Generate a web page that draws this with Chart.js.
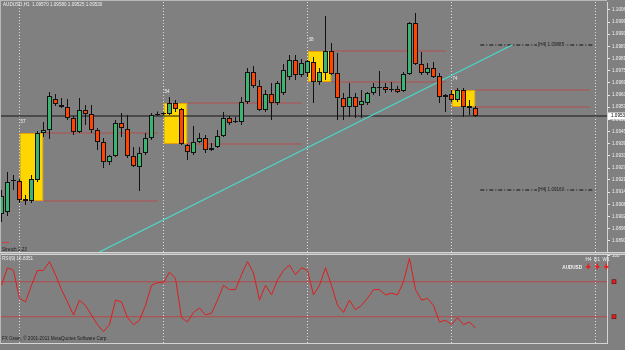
<!DOCTYPE html>
<html>
<head>
<meta charset="utf-8">
<title>AUDUSD,H1</title>
<script src="https://cdn.jsdelivr.net/npm/chart.js@4.4.0/dist/chart.umd.min.js"></script>
<style>
  html, body { margin: 0; padding: 0; background: #808080; overflow: hidden; }
  #main { position: absolute; left: 0; top: 0; }
  #rsi { position: absolute; left: 0; top: 254px; }
</style>
</head>
<body>
<canvas id="main" width="625" height="254"></canvas>
<canvas id="rsi" width="625" height="96"></canvas>
<script>
// AUDUSD H1 bars, 27 Apr 2011 21:00 .. 3 May 2011 03:00 (index = hour slot)
const opens = [
  1.09040, 1.09050, 1.09205, 1.09205, 1.09115, 1.09105, 1.09210, 1.09445, 1.09460, 1.09615,
  1.09585, 1.09575, 1.09520, 1.09450, 1.09560, 1.09540, 1.09460, 1.09400, 1.09300, 1.09330,
  1.09495, 1.09465, 1.09330, 1.09275, 1.09345, 1.09420, 1.09535, 1.09540, 1.09540, 1.09595,
  1.09565, 1.09385, 1.09345, 1.09400, 1.09420, 1.09360, 1.09375, 1.09430, 1.09520, 1.09500,
  1.09500, 1.09600, 1.09750, 1.09680, 1.09560, 1.09640, 1.09595, 1.09645, 1.09725, 1.09810,
  1.09735, 1.09745, 1.09800, 1.09700, 1.09745, 1.09855, 1.09745, 1.09620, 1.09575, 1.09625,
  1.09585, 1.09595, 1.09645, 1.09670, 1.09675, 1.09660, 1.09665, 1.09655, 1.09740, 1.09995,
  1.09790, 1.09745, 1.09770, 1.09730, 1.09625, 1.09640, 1.09610, 1.09660, 1.09580, 1.09570
];
const highs = [
  1.09160, 1.09250, 1.09235, 1.09215, 1.09135, 1.09235, 1.09455, 1.09500, 1.09650, 1.09640,
  1.09620, 1.09615, 1.09530, 1.09620, 1.09585, 1.09585, 1.09470, 1.09420, 1.09335, 1.09510,
  1.09545, 1.09535, 1.09375, 1.09375, 1.09445, 1.09545, 1.09552, 1.09548, 1.09625, 1.09610,
  1.09570, 1.09390, 1.09480, 1.09445, 1.09435, 1.09395, 1.09460, 1.09550, 1.09530, 1.09525,
  1.09625, 1.09770, 1.09780, 1.09710, 1.09660, 1.09695, 1.09705, 1.09790, 1.09835, 1.09835,
  1.09815, 1.09810, 1.09825, 1.09770, 1.10030, 1.09895, 1.09845, 1.09645, 1.09695, 1.09645,
  1.09660, 1.09650, 1.09695, 1.09755, 1.09695, 1.09700, 1.09680, 1.09750, 1.10000, 1.10045,
  1.09850, 1.09795, 1.09800, 1.09745, 1.09640, 1.09660, 1.09670, 1.09670, 1.09610, 1.09580
];
const lows = [
  1.09000, 1.09030, 1.09160, 1.09095, 1.09085, 1.09095, 1.09200, 1.09425, 1.09415, 1.09580,
  1.09570, 1.09510, 1.09435, 1.09445, 1.09485, 1.09445, 1.09360, 1.09270, 1.09285, 1.09325,
  1.09425, 1.09320, 1.09275, 1.09155, 1.09335, 1.09410, 1.09530, 1.09535, 1.09535, 1.09550,
  1.09385, 1.09310, 1.09335, 1.09395, 1.09345, 1.09355, 1.09370, 1.09425, 1.09485, 1.09495,
  1.09485, 1.09590, 1.09670, 1.09555, 1.09550, 1.09510, 1.09585, 1.09635, 1.09710, 1.09710,
  1.09725, 1.09725, 1.09595, 1.09685, 1.09710, 1.09735, 1.09510, 1.09510, 1.09525, 1.09520,
  1.09520, 1.09585, 1.09635, 1.09630, 1.09645, 1.09650, 1.09645, 1.09650, 1.09735, 1.09785,
  1.09735, 1.09735, 1.09720, 1.09595, 1.09550, 1.09600, 1.09600, 1.09525, 1.09535, 1.09525
];
const closes = [
  1.09130, 1.09200, 1.09210, 1.09110, 1.09105, 1.09215, 1.09445, 1.09460, 1.09630, 1.09590,
  1.09575, 1.09520, 1.09450, 1.09560, 1.09540, 1.09460, 1.09400, 1.09300, 1.09330, 1.09495,
  1.09470, 1.09330, 1.09280, 1.09345, 1.09420, 1.09535, 1.09540, 1.09545, 1.09595, 1.09565,
  1.09390, 1.09350, 1.09400, 1.09420, 1.09360, 1.09370, 1.09430, 1.09520, 1.09495, 1.09505,
  1.09600, 1.09750, 1.09680, 1.09560, 1.09640, 1.09595, 1.09695, 1.09760, 1.09810, 1.09735,
  1.09795, 1.09805, 1.09700, 1.09750, 1.09855, 1.09740, 1.09620, 1.09575, 1.09625, 1.09575,
  1.09605, 1.09645, 1.09675, 1.09675, 1.09660, 1.09665, 1.09650, 1.09740, 1.09995, 1.09790,
  1.09745, 1.09770, 1.09725, 1.09625, 1.09635, 1.09610, 1.09660, 1.09575, 1.09570, 1.09530
];

// RSI(9) window
const rsiValues = [
  66, 86, 83, 51, 47, 66, 83, 83, 93, 78,
  61, 47, 32, 49, 43, 32, 21, 13, 21, 49,
  47, 29, 21, 26, 43, 66, 69, 69, 81, 74,
  29, 24, 35, 40, 32, 34, 49, 66, 61, 61,
  78, 93, 80, 49, 66, 55, 72, 83, 89, 78,
  86, 83, 55, 66, 86, 66, 43, 35, 49, 38,
  43, 51, 61, 61, 55, 57, 55, 70, 97, 61,
  49, 51, 43, 24, 26, 21, 29, 21, 24, 17
];
const rsiLevels = [70, 30];

// session boxes (first bar index, range high/low, tag)
const boxStart = [3, 27, 51, 75];
const boxHigh = [1.09445, 1.09595, 1.09855, 1.09660];
const boxLow = [1.09105, 1.09390, 1.09700, 1.09575];
const boxTag = ['57', '54', '38', '74'];

// other objects
const daySeparators = [3, 27, 51, 75, 99];
const trendFrom = [16.3, 1.08850];
const trendTo = [85.1, 1.09885];
const h4Levels = [1.09885, 1.09160];
const h4From = 79.8, h4To = 98.8;
const lastPrice = 1.09530;
const headerText = 'AUDUSD,H1  1.09570 1.09580 1.09525 1.09530';

// axes
const priceMin = 1.08850, priceMax = 1.10100;
const priceTicks = [
  1.10060, 1.09999, 1.09939, 1.09878, 1.09817, 1.09756, 1.09696, 1.09635, 1.09574, 1.09513,
  1.09453, 1.09392, 1.09331, 1.09270, 1.09210, 1.09149, 1.09088, 1.09027, 1.08967, 1.08906
];
const timeTickIndex = [0, 4, 8, 12, 16, 20, 24, 28, 32, 36, 40, 44, 48, 52, 56, 60, 64, 68, 72, 76];
const timeTickText = [
  '27 Apr 2011', '28 Apr 01:00', '28 Apr 05:00', '28 Apr 09:00', '28 Apr 13:00', '28 Apr 17:00',
  '28 Apr 21:00', '29 Apr 01:00', '29 Apr 05:00', '29 Apr 09:00', '29 Apr 13:00', '29 Apr 17:00',
  '29 Apr 21:00', '2 May 01:00', '2 May 05:00', '2 May 09:00', '2 May 13:00', '2 May 17:00',
  '2 May 21:00', '3 May 01:00'
];
const xMin = -0.25, xMax = 100.9167;

const BULL = '#3cb371', BEAR = '#ff4500';
const font = (size, bold) => (bold ? 'bold ' : '') + size + 'px "Liberation Sans", Arial, sans-serif';
const noPad = s => { s.paddingTop = 0; s.paddingBottom = 0; s.paddingLeft = 0; s.paddingRight = 0; };

function hline(x0, x1, v, color, order, dash) {
  return {
    type: 'line', data: [{ x: x0, y: v }, { x: x1, y: v }],
    borderColor: color, borderWidth: 1, borderDash: dash || [], pointRadius: 0, order: order
  };
}
function vline(xv, v0, v1) {
  return {
    type: 'line', data: [{ x: xv, y: v0 }, { x: xv, y: v1 }],
    borderColor: '#dedede', borderWidth: 1, borderDash: [1, 2], pointRadius: 0, order: 8
  };
}

// ---------- price window ----------
const mainSets = [];
mainSets.push({
  type: 'bar',
  data: boxStart.map((s, k) => ({ x: s + 2, y: [boxLow[k], boxHigh[k]] })),
  backgroundColor: '#ffd700', borderColor: '#e8a000', borderWidth: 1, borderSkipped: false,
  barThickness: 24, grouped: false, inflateAmount: 0, order: 10
});
boxStart.forEach((s, k) => {
  mainSets.push(hline(s + 4, s + 23, boxHigh[k], '#b44c4c', 9));
  mainSets.push(hline(s + 4, s + 23, boxLow[k], '#b44c4c', 9));
});
daySeparators.forEach(d => mainSets.push(vline(d, priceMin, priceMax)));
mainSets.push(hline(xMin, xMax, lastPrice, '#151515', 7));
h4Levels.forEach(v => mainSets.push(hline(h4From, h4To, v, '#111111', 7, [4, 2, 1, 2])));
mainSets.push({
  type: 'line', data: [{ x: trendFrom[0], y: trendFrom[1] }, { x: trendTo[0], y: trendTo[1] }],
  borderColor: '#48d8c8', borderWidth: 1.3, pointRadius: 0, order: 6
});
mainSets.push({
  type: 'bar',
  data: lows.map((l, i) => ({ x: i, y: [l, highs[i]] })),
  backgroundColor: '#111111', barThickness: 1, grouped: false, inflateAmount: 0, order: 3
});
mainSets.push({
  type: 'bar',
  data: opens.map((o, i) => ({ x: i, y: [o, closes[i]] })),
  backgroundColor: opens.map((o, i) => closes[i] > o ? BULL : BEAR),
  borderColor: '#111111', borderWidth: 1, borderSkipped: false,
  barThickness: 5, grouped: false, inflateAmount: 0, order: 2
});

const mainDecor = {
  id: 'mainDecor',
  afterDraw(chart) {
    const { ctx, chartArea: a, scales: { x, y } } = chart;
    ctx.save();
    ctx.fillStyle = '#b8b8b8';
    ctx.fillRect(0, 0, a.right, 1);
    ctx.fillRect(0, 0, 1, a.bottom);
    ctx.fillStyle = '#d4d4d4';
    ctx.fillRect(0, a.bottom, 625, 1.5);

    ctx.font = font(4.6);
    ctx.textBaseline = 'middle';
    ctx.fillStyle = '#efefef';
    ctx.fillText(headerText, 3, 5);
    boxStart.forEach((s, k) => {
      ctx.fillText(boxTag[k], x.getPixelForValue(s) + 1, y.getPixelForValue(boxHigh[k]) - 11);
    });

    h4Levels.forEach(v => {
      const txt = '[H4] ' + v.toFixed(5);
      const px = x.getPixelForValue(89.4), py = y.getPixelForValue(v);
      const w = ctx.measureText(txt).width;
      ctx.fillStyle = '#808080';
      ctx.fillRect(px - 1, py - 3, w + 2, 6);
      ctx.fillStyle = '#1a1a1a';
      ctx.fillText(txt, px, py);
    });

    ctx.fillStyle = '#c84040';
    ctx.fillRect(2, 242, 7, 1);
    ctx.fillStyle = '#1a1a1a';
    ctx.fillText('Stretch 1.23', 2, 249.5);

    const py = y.getPixelForValue(lastPrice);
    ctx.fillStyle = '#ffffff';
    ctx.fillRect(a.right + 1, py - 3.5, 18, 7);
    ctx.fillStyle = '#000000';
    ctx.fillText(lastPrice.toFixed(5), a.right + 4, py);
    ctx.restore();
  }
};

new Chart(document.getElementById('main'), {
  type: 'bar',
  data: { datasets: mainSets },
  options: {
    responsive: false, animation: false, devicePixelRatio: 1, events: [],
    layout: { padding: { top: 2, bottom: 2, left: 0, right: 0 } },
    plugins: { legend: { display: false }, tooltip: { enabled: false } },
    scales: {
      x: { type: 'linear', display: false, offset: false, min: xMin, max: xMax, grid: { offset: false } },
      y: {
        type: 'linear', position: 'right', min: priceMin, max: priceMax,
        afterBuildTicks: s => { s.ticks = priceTicks.map(v => ({ value: v })); },
        afterFit: s => { s.width = 18; noPad(s); },
        grid: { drawOnChartArea: false, drawTicks: true, tickLength: 3, color: '#e8e8e8' },
        border: { display: true, color: '#d4d4d4' },
        ticks: { color: '#f2f2f2', font: { size: 4.6, family: 'Liberation Sans' }, padding: 2,
                 callback: v => v.toFixed(5) }
      }
    }
  },
  plugins: [mainDecor]
});

// ---------- RSI window ----------
const rsiSets = [];
daySeparators.forEach(d => rsiSets.push(vline(d, 0, 100)));
rsiLevels.forEach(v => rsiSets.push(hline(xMin, xMax, v, '#b84848', 7)));
rsiSets.push({
  type: 'line', data: rsiValues.map((v, i) => ({ x: i, y: v })),
  borderColor: '#dc1e1e', borderWidth: 1, pointRadius: 0, tension: 0, order: 1
});

function downArrow(ctx, cx, cy) {
  ctx.fillRect(cx - 0.5, cy - 3, 1.5, 3);
  ctx.beginPath();
  ctx.moveTo(cx - 2.5, cy - 0.5);
  ctx.lineTo(cx + 3, cy - 0.5);
  ctx.lineTo(cx + 0.25, cy + 3);
  ctx.closePath();
  ctx.fill();
}

const rsiDecor = {
  id: 'rsiDecor',
  afterDraw(chart) {
    const { ctx, chartArea: a, scales: { y } } = chart;
    ctx.save();
    ctx.fillStyle = '#d4d4d4';
    ctx.fillRect(0, 0, 625, 1);
    ctx.fillStyle = '#b8b8b8';
    ctx.fillRect(0, 0, 1, a.bottom);

    ctx.font = font(4.6);
    ctx.textBaseline = 'middle';
    ctx.fillStyle = '#efefef';
    ctx.fillText('RSI(9) 16.8351', 2, 5);
    ctx.fillStyle = '#1a1a1a';
    ctx.fillText('FX Grant, \u00a9 2001-2011 MetaQuotes Software Corp.', 2, 85);

    rsiLevels.forEach(v => {
      const py = y.getPixelForValue(v);
      ctx.fillStyle = '#e02020';
      ctx.fillRect(a.right + 5, py - 2, 4, 4);
      ctx.strokeStyle = '#5a1010';
      ctx.lineWidth = 0.6;
      ctx.strokeRect(a.right + 5, py - 2, 4, 4);
    });

    ctx.fillStyle = '#f2f2f2';
    ctx.font = font(4.6, true);
    ctx.textAlign = 'right';
    ctx.fillText('AUDUSD', 582, 13.5);
    ctx.textAlign = 'center';
    ctx.font = font(4.6);
    ctx.fillText('H4', 588.5, 6);
    ctx.fillText('D1', 597, 6);
    ctx.fillText('W1', 606, 6);
    ctx.fillStyle = '#e82020';
    [588, 597, 606].forEach(cx => downArrow(ctx, cx, 12.5));
    ctx.restore();
  }
};

new Chart(document.getElementById('rsi'), {
  type: 'line',
  data: { datasets: rsiSets },
  options: {
    responsive: false, animation: false, devicePixelRatio: 1, events: [],
    layout: { padding: { top: 1.5, bottom: 0, left: 0, right: 0 } },
    plugins: { legend: { display: false }, tooltip: { enabled: false } },
    scales: {
      x: {
        type: 'linear', offset: false, min: xMin, max: xMax,
        afterBuildTicks: s => { s.ticks = timeTickIndex.map(v => ({ value: v })); },
        afterFit: s => { s.height = 7; noPad(s); },
        grid: { display: false },
        border: { display: true, color: '#d4d4d4' },
        ticks: { autoSkip: false, maxRotation: 0, minRotation: 0, align: 'start', padding: 1,
                 color: '#f2f2f2', font: { size: 4.6, family: 'Liberation Sans' },
                 callback: (v, idx) => timeTickText[idx] }
      },
      y: {
        type: 'linear', position: 'right', min: 0, max: 100,
        afterBuildTicks: s => { s.ticks = [{ value: 100 }]; },
        afterFit: s => { s.width = 18; noPad(s); },
        grid: { drawOnChartArea: false, drawTicks: true, tickLength: 3, color: '#e8e8e8' },
        border: { display: true, color: '#d4d4d4' },
        ticks: { color: '#f2f2f2', font: { size: 4.6, family: 'Liberation Sans' }, padding: 2 }
      }
    }
  },
  plugins: [rsiDecor]
});
</script>
</body>
</html>
